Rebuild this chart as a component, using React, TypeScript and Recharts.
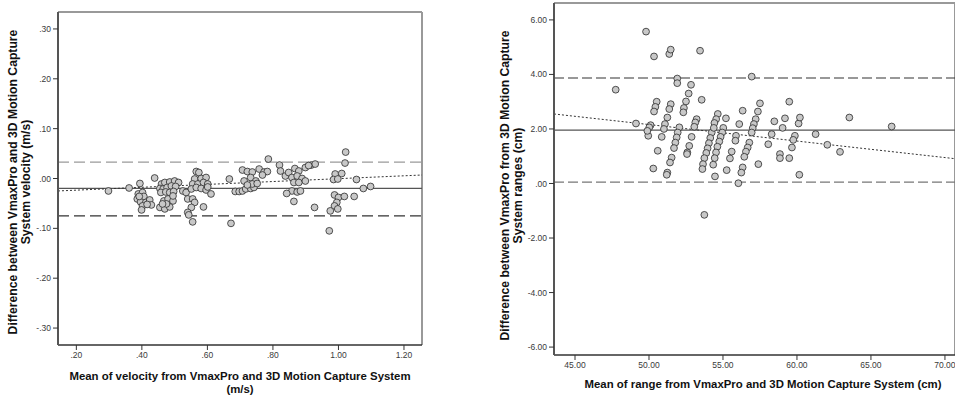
import React from 'react'
import { ScatterChart, Scatter, XAxis, YAxis, ReferenceLine } from 'recharts'

// Bland-Altman: velocity (m/s)
const velPoints: [number, number][] = [
  [0.298, -0.025], [0.361, -0.019], [0.394, -0.01], [0.439, 0.001],
  [0.389, -0.031], [0.402, -0.028], [0.406, -0.036], [0.386, -0.041], [0.396, -0.047], [0.412, -0.048],
  [0.402, -0.055], [0.424, -0.043], [0.429, -0.053], [0.416, -0.052], [0.399, -0.063], [0.392, -0.036],
  [0.46, -0.011], [0.47, -0.008], [0.485, -0.007], [0.5, -0.005], [0.512, -0.008], [0.455, -0.02],
  [0.465, -0.021], [0.477, -0.018], [0.49, -0.015], [0.503, -0.016], [0.458, -0.028], [0.473, -0.027],
  [0.485, -0.028], [0.497, -0.026], [0.467, -0.045], [0.48, -0.041], [0.495, -0.045], [0.455, -0.058],
  [0.47, -0.061], [0.485, -0.057], [0.495, -0.035], [0.475, -0.051], [0.463, -0.051],
  [0.566, 0.014], [0.574, 0.012], [0.561, -0.001], [0.581, 0.0], [0.596, 0.002], [0.555, -0.011],
  [0.571, -0.011], [0.588, -0.008], [0.601, -0.011], [0.525, -0.025], [0.535, -0.028], [0.551, -0.021],
  [0.566, -0.018], [0.581, -0.02], [0.596, -0.023], [0.611, -0.031], [0.54, -0.041], [0.555, -0.041],
  [0.561, -0.048], [0.551, -0.058], [0.54, -0.068], [0.543, -0.073], [0.555, -0.087], [0.588, -0.057],
  [0.601, -0.017],
  [0.667, -0.001], [0.672, -0.09], [0.685, -0.026], [0.697, -0.026], [0.707, -0.025], [0.717, -0.021],
  [0.732, -0.02], [0.742, -0.018], [0.707, 0.017], [0.722, 0.014], [0.737, 0.013], [0.758, 0.019],
  [0.773, 0.013], [0.783, 0.014], [0.712, -0.005], [0.732, 0.002], [0.748, -0.005], [0.768, 0.007],
  [0.737, -0.011], [0.722, -0.013], [0.786, 0.039], [0.752, -0.01],
  [0.82, 0.027], [0.823, 0.015], [0.838, 0.005], [0.848, 0.012], [0.867, 0.02], [0.879, 0.015],
  [0.899, 0.022], [0.917, 0.027], [0.929, 0.029], [0.858, 0.002], [0.874, 0.005], [0.889, 0.0],
  [0.864, -0.008], [0.879, -0.008], [0.899, -0.005], [0.858, -0.025], [0.874, -0.027], [0.884, -0.025],
  [0.842, -0.03], [0.864, -0.046], [0.927, -0.058], [0.909, 0.026],
  [1.022, 0.053], [1.02, 0.031], [0.99, 0.009], [1.01, 0.01], [0.985, -0.002], [0.998, -0.001],
  [1.055, -0.002], [0.988, -0.033], [1.0, -0.038], [1.018, -0.036], [0.995, -0.048], [0.988, -0.055],
  [0.998, -0.061], [0.975, -0.065], [0.972, -0.105], [1.048, -0.036], [1.076, -0.02], [1.098, -0.016],
]
const velLimits = { upper: 0.033, mean: -0.02, lower: -0.075 }
const velFit: [number, number][] = [[0.144, -0.025], [1.255, 0.007]]
const velXDomain: [number, number] = [0.144, 1.255]
const velYDomain: [number, number] = [-0.334, 0.334]
const velXTicks = [0.2, 0.4, 0.6, 0.8, 1.0, 1.2]
const velYTicks = [0.3, 0.2, 0.1, 0, -0.1, -0.2, -0.3]

// Bland-Altman: range (cm)
const rangePoints: [number, number][] = [
  [49.8, 5.57], [50.34, 4.66], [51.37, 4.75], [51.47, 4.91], [53.45, 4.87], [56.94, 3.92],
  [47.75, 3.44], [49.12, 2.2], [51.91, 3.85], [51.91, 3.68], [52.84, 3.62], [52.68, 3.3],
  [53.56, 3.07], [52.5, 3.01], [52.36, 2.77], [52.32, 2.61],
  [50.52, 3.0], [50.43, 2.81], [50.34, 2.64], [50.11, 2.14], [50.02, 2.06], [49.95, 1.75],
  [50.59, 1.2], [50.29, 0.55], [49.89, 1.93],
  [51.47, 2.91], [51.37, 2.73], [51.24, 2.42], [51.08, 2.18], [51.01, 2.0], [50.86, 1.71],
  [51.53, 0.95], [51.42, 0.77], [51.24, 0.4], [51.2, 0.32],
  [52.05, 2.06], [51.94, 1.87], [51.87, 1.69], [51.78, 1.5], [51.69, 1.3], [52.59, 1.14],
  [52.57, 1.08], [52.72, 1.38],
  [53.22, 2.36], [53.13, 2.24], [53.06, 2.08], [52.88, 1.71], [54.24, 1.87], [54.14, 1.67],
  [54.05, 1.48], [53.96, 1.29], [53.87, 1.12], [53.74, 0.93], [53.65, 0.71], [53.61, 0.53],
  [54.46, 0.26], [54.65, 2.55], [54.54, 2.36], [54.42, 2.22], [54.38, 2.04],
  [55.2, 2.39], [55.02, 2.04], [54.95, 1.87], [54.84, 1.71], [54.75, 1.54], [54.62, 1.35],
  [54.53, 1.14], [54.44, 0.93], [54.34, 0.69], [55.25, 0.49], [55.59, 1.17], [55.47, 0.92],
  [56.1, 2.18], [55.88, 1.75], [55.84, 1.57],
  [57.5, 2.94], [57.36, 2.64], [57.21, 2.36], [57.09, 2.18], [57.01, 2.03], [56.94, 1.87],
  [56.78, 1.5], [56.67, 1.32], [56.55, 1.17], [56.44, 0.98], [56.33, 0.59], [56.24, 0.4],
  [56.04, 0.01], [56.33, 2.67], [57.39, 0.71],
  [58.47, 2.28], [58.29, 1.81], [58.06, 1.44], [58.85, 1.08], [58.85, 0.93], [59.19, 2.39],
  [59.03, 2.04], [59.48, 3.0], [59.48, 0.93], [59.66, 1.32], [59.86, 1.75], [59.75, 1.6],
  [60.11, 2.2], [60.2, 2.42], [60.16, 0.32], [61.26, 1.81], [62.05, 1.42], [62.91, 1.16],
  [63.54, 2.42], [66.4, 2.09], [53.74, -1.15],
]
const rangeLimits = { upper: 3.87, mean: 1.96, lower: 0.05 }
const rangeFit: [number, number][] = [[43.58, 2.55], [70.68, 0.91]]
const rangeXDomain: [number, number] = [43.58, 70.68]
const rangeYDomain: [number, number] = [-6.29, 6.62]
const rangeXTicks = [45, 50, 55, 60, 65, 70]
const rangeYTicks = [6, 4, 2, 0, -2, -4, -6]

const spss = (v: number, d: number) => {
  const s = Math.abs(v).toFixed(d)
  const t = s.startsWith('0.') ? s.slice(1) : s
  return (v < 0 ? '-' : '') + t
}

const toRows = (pts: [number, number][]) => pts.map(([x, y]) => ({ x, y }))

const Dot = (p: any) => (
  <circle cx={p.cx} cy={p.cy} r={3.4} fill="#c8c8c8" stroke="#2b2b2b" strokeWidth={0.8} />
)

const tickStyle = { fontSize: 8.5, fill: '#3a3a3a', fontFamily: 'Arial, "Liberation Sans", sans-serif' }
const titleStyle: React.CSSProperties = {
  position: 'absolute',
  fontFamily: 'Arial, "Liberation Sans", sans-serif',
  fontWeight: 'bold',
  fontSize: 11.4,
  color: '#111',
  textAlign: 'center',
  whiteSpace: 'nowrap',
}

interface PanelProps {
  points: [number, number][]
  limits: { upper: number; mean: number; lower: number }
  fit: [number, number][]
  xDomain: [number, number]
  yDomain: [number, number]
  xTicks: number[]
  yTicks: number[]
  yDec: number
  width: number
  margin: { top: number; right: number; bottom: number; left: number }
  yAxisWidth: number
  upperColor: string
  lowerColor: string
  dash: string
}

function Panel(props: PanelProps) {
  const { points, limits, fit, xDomain, yDomain } = props
  return (
    <ScatterChart width={props.width} height={404} margin={props.margin}>
      <XAxis
        dataKey="x"
        type="number"
        domain={xDomain}
        ticks={props.xTicks}
        interval={0}
        allowDataOverflow
        tickFormatter={(v: number) => spss(v, 2)}
        tick={tickStyle}
        tickSize={5}
        tickLine={{ stroke: '#333' }}
        axisLine={{ stroke: '#333', strokeWidth: 1.5 }}
        height={30}
      />
      <YAxis
        dataKey="y"
        type="number"
        domain={yDomain}
        ticks={props.yTicks}
        interval={0}
        allowDataOverflow
        tickFormatter={(v: number) => spss(v, props.yDec)}
        tick={tickStyle}
        tickSize={5}
        tickLine={{ stroke: '#333' }}
        axisLine={{ stroke: '#555', strokeWidth: 2 }}
        width={props.yAxisWidth}
      />
      <ReferenceLine y={yDomain[1]} stroke="#999" strokeWidth={2} ifOverflow="visible" />
      <ReferenceLine x={xDomain[1]} stroke="#999" strokeWidth={2} ifOverflow="visible" />
      <ReferenceLine y={limits.upper} stroke={props.upperColor} strokeDasharray={props.dash} strokeWidth={1.2} />
      <ReferenceLine y={limits.mean} stroke="#555" strokeWidth={1.2} />
      <ReferenceLine y={limits.lower} stroke={props.lowerColor} strokeDasharray={props.dash} strokeWidth={1.2} />
      <ReferenceLine
        segment={fit.map(([x, y]) => ({ x, y }))}
        stroke="#333"
        strokeDasharray="2 2"
        strokeWidth={1}
        ifOverflow="hidden"
      />
      <Scatter data={toRows(points)} shape={Dot} isAnimationActive={false} />
    </ScatterChart>
  )
}

export default function App() {
  return (
    <div style={{ position: 'absolute', left: 0, top: 0, width: 955, height: 404, background: '#fff', overflow: 'hidden' }}>
      <div style={{ position: 'absolute', left: 0, top: 0 }}>
        <Panel
          points={velPoints}
          limits={velLimits}
          fit={velFit}
          xDomain={velXDomain}
          yDomain={velYDomain}
          xTicks={velXTicks}
          yTicks={velYTicks}
          yDec={2}
          width={440}
          margin={{ top: 12, right: 18, bottom: 29, left: 8 }}
          yAxisWidth={50}
          upperColor="#9a9a9a"
          lowerColor="#333"
          dash="11 5"
        />
      </div>
      <div style={{ position: 'absolute', left: 480, top: 0 }}>
        <Panel
          points={rangePoints}
          limits={rangeLimits}
          fit={rangeFit}
          xDomain={rangeXDomain}
          yDomain={rangeYDomain}
          xTicks={rangeXTicks}
          yTicks={rangeYTicks}
          yDec={2}
          width={475}
          margin={{ top: 3, right: 0, bottom: 19, left: 0 }}
          yAxisWidth={74}
          upperColor="#333"
          lowerColor="#777"
          dash="10 4"
        />
      </div>

      <div style={{ ...titleStyle, fontSize: 12.2, left: 19.5 - 180, top: 182 - 13, width: 360, lineHeight: '13px', transform: 'rotate(-90deg)' }}>
        Difference between VmaxPro and 3D Motion Capture<br />System velocity (m/s)
      </div>
      <div style={{ ...titleStyle, left: 240 - 210, top: 370, width: 420, lineHeight: '13px' }}>
        Mean of velocity from VmaxPro and 3D Motion Capture System<br />(m/s)
      </div>
      <div style={{ ...titleStyle, fontSize: 12.2, left: 511 - 180, top: 185 - 12.5, width: 360, lineHeight: '12.5px', transform: 'rotate(-90deg)' }}>
        Difference between VmaxPro from 3D Motion Capture<br />System ranges (cm)
      </div>
      <div style={{ ...titleStyle, left: 763 - 210, top: 378, width: 420, lineHeight: '13px' }}>
        Mean of range from VmaxPro and 3D Motion Capture System (cm)
      </div>
    </div>
  )
}
